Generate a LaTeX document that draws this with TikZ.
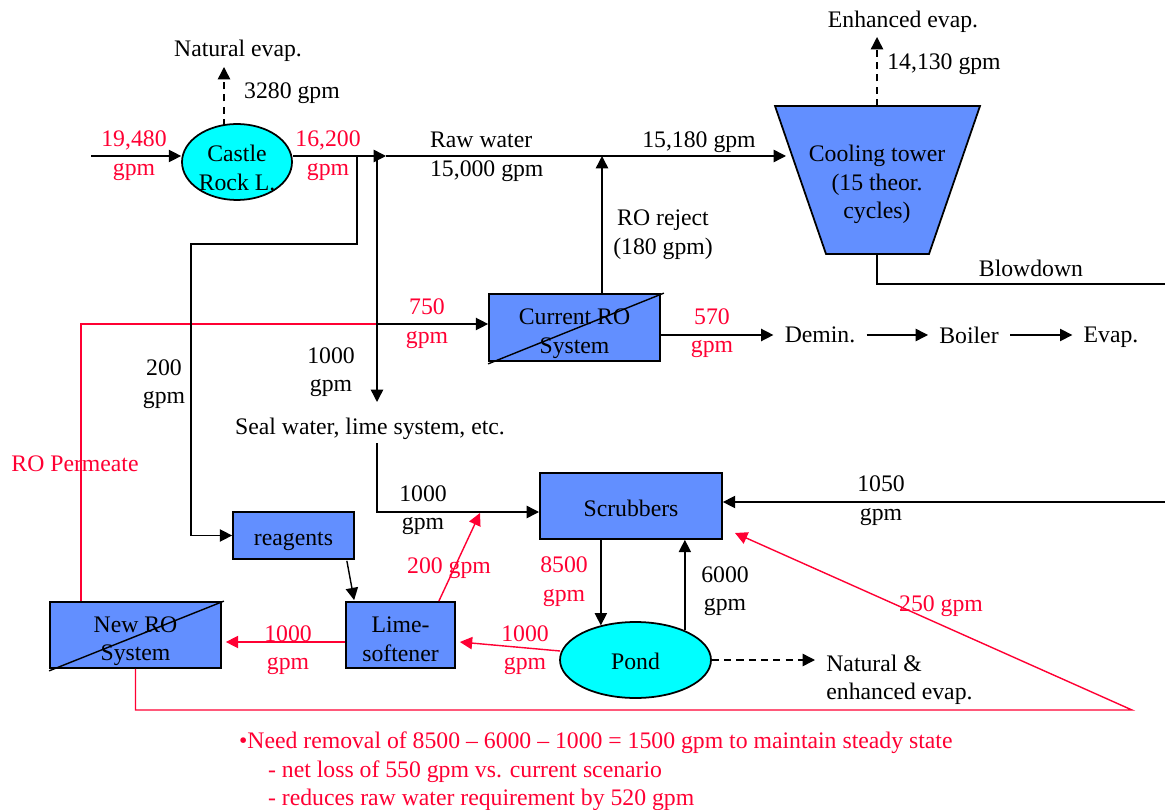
\documentclass[tikz,border=0pt]{standalone}
\usepackage{fontspec}
\setmainfont{Liberation Serif}
\usetikzlibrary{arrows.meta,positioning,calc,shapes.geometric}
\definecolor{boxblue}{RGB}{98,143,255}
\definecolor{flowred}{RGB}{255,0,51}
\definecolor{lakecyan}{RGB}{0,255,255}
\newcommand{\flowfont}{\fontsize{13.5pt}{16.2pt}\selectfont}
\newcommand{\boxsink}[1]{\rule{0pt}{#1}}
\tikzset{
  unitbox/.style={draw, line width=1pt, fill=boxblue, font=\flowfont, align=center, inner sep=0pt},
  water/.style={ellipse, draw, line width=1pt, fill=lakecyan, font=\flowfont, align=center, inner xsep=0pt, inner ysep=-1pt},
  lbl/.style={font=\flowfont, align=center, inner sep=1pt},
  redlbl/.style={lbl, text=flowred},
  flow/.style={line width=0.8pt, -{Triangle[length=7pt,width=7pt]}},
  redflow/.style={flow, flowred},
  vapour/.style={flow, dash pattern=on 4pt off 3pt},
}

\begin{document}
\begin{tikzpicture}[x=0.02cm, y=-0.02cm]
    \useasboundingbox (0,0) rectangle (1165,810);
    % Castle Rock lake
    \node[water, minimum width=2.2cm, minimum height=1.52cm] (lake) at (237,162) {\boxsink{16pt}Castle\\Rock L.};
    \node[lbl] (natevap) at (238,51) {Natural evap.};
    \node[lbl] (evap3280) at (292,93) {3280 gpm};
    \node[redlbl] (in19480) at (134,155.5) {19,480\\gpm};
    \node[redlbl] (out16200) at (328,155.5) {16,200\\gpm};
    \coordinate (src) at (91,156);
    \coordinate (lakeTop) at (224,126);
    \coordinate (lakeTip) at (224,67);
    \draw[flow] (src) -- (lake.west |- src);
    \draw[vapour] (lakeTop) -- (lakeTip);
    % Raw water main line
    \coordinate (lakeOut) at (293,156);
    \coordinate (raw) at (386,156);
    \coordinate (towerIn) at (786,156);
    \node[lbl, anchor=west, align=left] (rawlbl) at (428,157) {Raw water\\15,000 gpm};
    \node[lbl] (main15180) at (699,142) {15,180 gpm};
    % Cooling tower
    \filldraw[line width=1pt, fill=boxblue] (775,106) -- (980,106) -- (929,254) -- (826,254) -- cycle;
    \node[lbl] (tower) at (877,184.5) {Cooling tower\\(15 theor.\\cycles)};
    \coordinate (towerTop) at (877,106);
    \coordinate (towerBot) at (877,254);
    \coordinate (enhTip) at (877,37);
    \coordinate (bdEnd) at (1165,284);
    \node[lbl] (enh) at (903,22) {Enhanced evap.};
    \node[lbl] (enh14130) at (944,64) {14,130 gpm};
    \node[lbl] (blowdown) at (1031,268) {Blowdown};
    % Current RO and boiler train
    \node[unitbox, minimum width=3.42cm, minimum height=1.34cm] (curro) at (574.5,327.5) {\boxsink{16pt}Current RO\\System};
    \node[lbl] (reject) at (663,234.5) {RO reject\\(180 gpm)};
    \node[lbl, inner sep=0.22cm] (demin) at (820,335) {Demin.};
    \node[lbl, inner sep=0.22cm] (boiler) at (969,335) {Boiler};
    \node[lbl, inner sep=0.22cm] (evap) at (1111,337) {Evap.};
    \node[redlbl] (ro750) at (427,323.5) {750\\gpm};
    \node[redlbl] (ro570) at (712,333) {570\\gpm};
    % Lower units
    \node[unitbox, minimum width=2.42cm, minimum height=0.94cm] (reagents) at (293.5,535.5) {\boxsink{14.6pt}reagents};
    \node[unitbox, minimum width=3.42cm, minimum height=1.32cm] (newro) at (135.5,635) {\boxsink{15.7pt}New RO\\System};
    \node[unitbox, minimum width=2.18cm, minimum height=1.32cm] (lime) at (400.5,635) {\boxsink{13.8pt}Lime-\\softener};
    \node[unitbox, minimum width=3.64cm, minimum height=1.32cm] (scrub) at (631,506) {\boxsink{12.6pt}Scrubbers};
    \node[water, minimum width=3.02cm, minimum height=1.52cm] (pond) at (635.5,660) {\boxsink{11.3pt}Pond};
    \node[lbl, align=left, anchor=west, inner sep=0.22cm] (natenh) at (815,680) {Natural \&\\enhanced evap.};
    % Flow labels
    \node[lbl] (lime200) at (164,384) {200\\gpm};
    \node[lbl] (seal1000) at (331,372) {1000\\gpm};
    \node[lbl] (seal) at (370,429) {Seal water, lime system, etc.};
    \node[lbl] (scrub1000) at (423,510) {1000\\gpm};
    \node[redlbl] (permlbl) at (75,464) {RO Permeate};
    \node[lbl] (scrub1050) at (881,500.5) {1050\\gpm};
    \node[redlbl] (pond8500) at (564,581.5) {8500\\gpm};
    \node[lbl] (pond6000) at (725,591) {6000\\gpm};
    \node[redlbl] (lime1000) at (525,650) {1000\\gpm};
    \node[redlbl] (newro1000) at (288,650) {1000\\gpm};
    \node[redlbl] (mix200) at (449,568) {200 gpm};
    \node[redlbl] (ret250) at (941,606) {250 gpm};
    % Junctions
    \coordinate (tapA) at (357,156);
    \coordinate (bendA) at (191,244);
    \coordinate (tapB) at (377,156);
    \coordinate (tapC) at (377,324);
    \coordinate (sealIn) at (377,402);
    \coordinate (sealOut) at (377,443);
    \coordinate (scrubIn) at (539,512);
    \coordinate (rejTop) at (602,156);
    \coordinate (permTop) at (81,324);
    \coordinate (mixPt) at (480,513);
    \coordinate (feed1050) at (1165,502);
    \coordinate (loopEnd) at (1132,710);
    \coordinate (scrubRet) at (735,533);
    % RO permeate return (red)
    \draw[line width=0.8pt, flowred] (newro.north -| permTop) -- (permTop) -- (tapC);
    % Black flows
    \draw[flow] (lakeOut) -- (raw);
    \draw[flow] (raw) -- (towerIn);
    \draw[flow] (tapA) |- (bendA) |- (reagents.west);
    \draw[flow] (tapB) -- (sealIn);
    \draw[flow] (tapC) -- (curro.west |- tapC);
    \draw[flow] (curro.north -| rejTop) -- (rejTop);
    \draw[vapour] (towerTop) -- (enhTip);
    \draw[line width=0.8pt] (towerBot) |- (bdEnd);
    \draw[flow] (curro.east |- demin.west) -- (demin.west);
    \draw[flow] (demin.east) -- (boiler.west);
    \draw[flow] (boiler.east) -- (evap.west |- boiler.east);
    \draw[flow] (sealOut) |- (scrubIn);
    \draw[flow] ($(reagents.south east)+(-8,1)$) -- ($(lime.north west)+(9,-1)$);
    \draw[flow] (scrub.south -| pond.135) -- (pond.135);
    \draw[flow] (pond.31) -- (pond.31 |- scrub.south);
    \draw[vapour] (pond.east) -- (natenh.west |- pond.east);
    \draw[flow] (feed1050) -- (scrub.east |- feed1050);
    % Red flows
    \draw[redflow] ($(lime.north east)+(-17,0)$) -- (mixPt);
    \draw[redflow] ($(lime.west)+(0,7)$) -- ($(newro.east)+(4,7)$);
    \draw[redflow] ($(pond.west)+(1,-9)$) -- ($(lime.east)+(4,7)$);
    \draw[redflow] (newro.south) |- (loopEnd) -- (scrubRet);
    % Crossed-out RO units
    \draw[line width=0.8pt] ([shift={(0,2)}]curro.south west) -- ([shift={(3,0)}]curro.north east);
    \draw[line width=0.8pt] ([shift={(0,2)}]newro.south west) -- ([shift={(2,0)}]newro.north east);
    % Note
    \node[redlbl, align=left, anchor=west] (note) at (237,771.5) {•Need removal of 8500 – 6000 – 1000 = 1500 gpm to maintain steady state\\\hspace*{0.58cm}- net loss of 550 gpm vs. current scenario\\\hspace*{0.58cm}- reduces raw water requirement by 520 gpm};
\end{tikzpicture}
\end{document}
